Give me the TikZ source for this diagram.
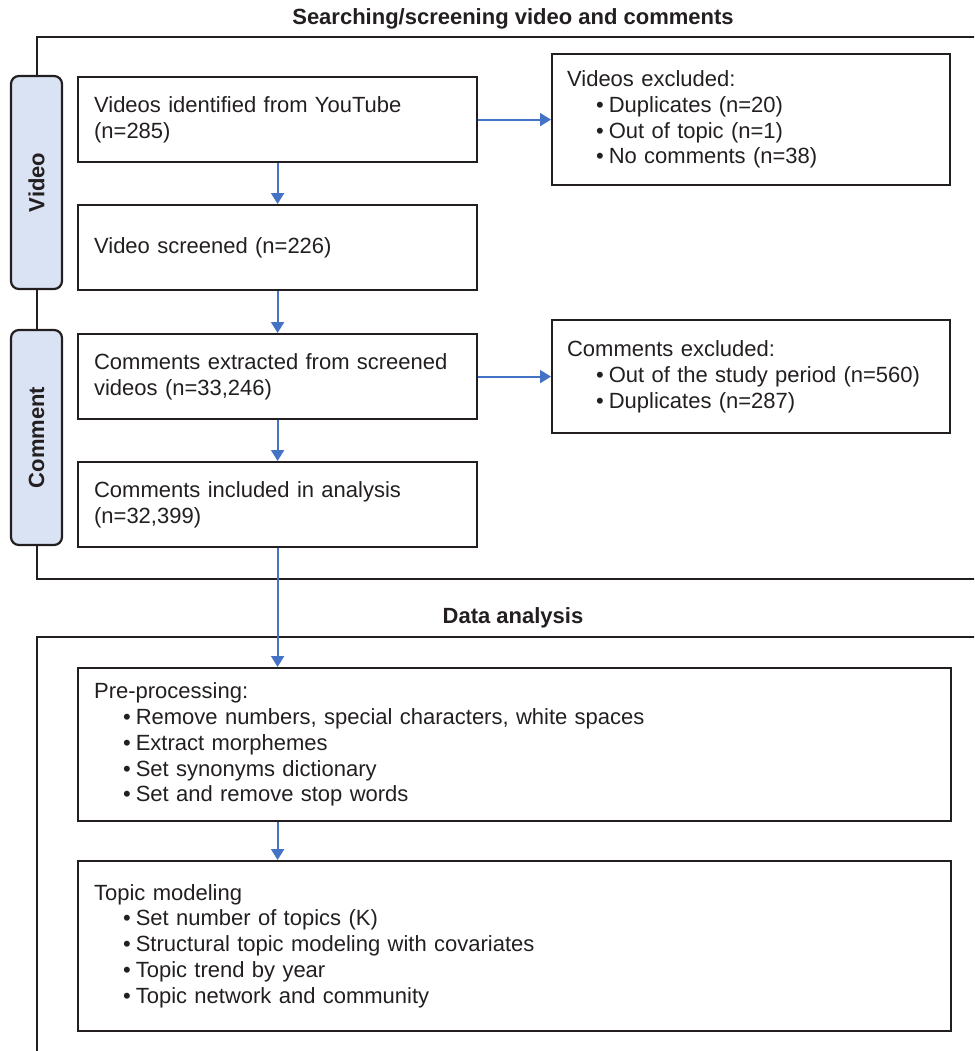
\documentclass[tikz,border=0pt]{standalone}
\usepackage{fontspec}
\setmainfont{Liberation Sans}
\usetikzlibrary{arrows.meta}
\definecolor{ink}{HTML}{231F20}
\definecolor{flow}{HTML}{4472C4}
\definecolor{band}{HTML}{DAE3F3}
\newcommand\bul{\\\hspace*{29pt}\textbullet\hspace{5pt}}
\begin{document}
\begin{tikzpicture}[x=1pt,y=-1pt,
  every node/.style={text=ink, font=\fontsize{22}{25.8}\selectfont},
  stepbox/.style={draw=ink, line width=2.2pt, rectangle, align=left,
    inner xsep=16pt, inner ysep=0pt, anchor=north west},
  narrow/.style={stepbox, text width=367pt, minimum width=399pt},
  wide/.style={stepbox, text width=841pt, minimum width=873pt},
  sidebox/.style={draw=ink, line width=2.2pt, fill=band, rounded corners=8pt,
    rotate=90, minimum height=51pt, inner sep=0pt,
    font=\fontsize{22}{26}\selectfont\bfseries},
  heading/.style={font=\fontsize{22}{26}\selectfont\bfseries},
  frame/.style={draw=ink, line width=2pt},
  flowarrow/.style={draw=flow, line width=2pt,
    -{Triangle[length=11pt, width=13pt]}}]
\useasboundingbox (0,0) rectangle (974,1051);
\clip (0,0) rectangle (974,1051);

% section frames, open towards the right and bottom
\coordinate (f1a) at (985,37);
\coordinate (f1b) at (37,37);
\coordinate (f1c) at (37,579);
\coordinate (f1d) at (985,579);
\path[frame] (f1a) -- (f1b) -- (f1c) -- (f1d);
\coordinate (f2a) at (985,637);
\coordinate (f2b) at (37,637);
\coordinate (f2c) at (37,1060);
\path[frame] (f2a) -- (f2b) -- (f2c);

% section headings
\node[heading] (h1) at (513,19) {Searching/screening video and comments};
\node[heading] (h2) at (513,618) {Data analysis};

% stage labels on the left
\node[sidebox, minimum width=213pt] (lv) at (36.5,182.5) {Video};
\node[sidebox, minimum width=215pt] (lc) at (36.5,437.5) {Comment};

% main flow
\node[narrow, minimum height=85pt] (b1) at (77,76)
  {Videos identified from YouTube\\(n=285)};
\node[narrow, minimum height=85pt] (b2) at (77,204)
  {Video screened (n=226)};
\node[narrow, minimum height=85pt] (b3) at (77,333)
  {Comments extracted from screened\\videos (n=33,246)};
\node[narrow, minimum height=85pt] (b4) at (77,461)
  {Comments included in analysis\\(n=32,399)};

% exclusions
\node[stepbox, text width=368pt, minimum width=398pt, minimum height=131pt,
  inner xsep=15pt] (e1) at (551,53)
  {Videos excluded:\bul Duplicates (n=20)\bul Out of topic (n=1)\bul No comments (n=38)};
\node[stepbox, text width=368pt, minimum width=398pt, minimum height=113pt,
  inner xsep=15pt] (e2) at (551,319)
  {Comments excluded:\bul Out of the study period (n=560)\bul Duplicates (n=287)};

% analysis steps
\node[wide, minimum height=153pt] (p1) at (77,667)
  {Pre-processing:\bul Remove numbers, special characters, white spaces\bul Extract morphemes\bul Set synonyms dictionary\bul Set and remove stop words};
\node[wide, minimum height=170pt] (p2) at (77,860)
  {Topic modeling\bul Set number of topics (K)\bul Structural topic modeling with covariates\bul Topic trend by year\bul Topic network and community};

% connectors
\path[flowarrow] (b1) -- (b2);
\path[flowarrow] (b2) -- (b3);
\path[flowarrow] (b3) -- (b4);
\path[flowarrow] (b1) -- (e1);
\path[flowarrow] (b3) -- (e2);
\path[flowarrow] (b4.south) -- (b4.south |- p1.north);
\path[flowarrow] (p1.south -| b4.south) -- (p2.north -| b4.south);
\end{tikzpicture}
\end{document}
